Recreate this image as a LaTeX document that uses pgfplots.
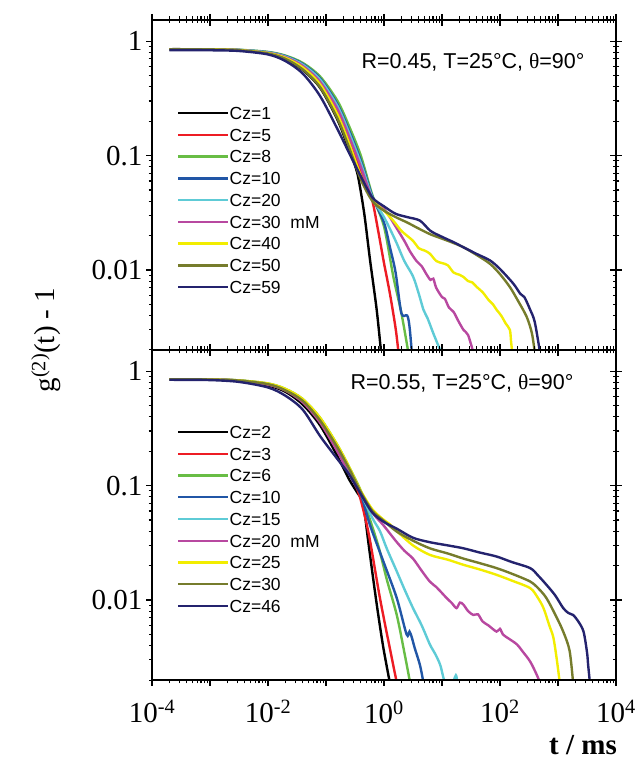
\documentclass[border=0pt]{standalone}
\usepackage{pgfplots}
\pgfplotsset{compat=1.18}
\usepackage{fontspec}
\setmainfont{Liberation Serif}
\newfontfamily\arial{Liberation Sans}

\definecolor{czblack}{RGB}{0,0,0}
\definecolor{czred}{RGB}{237,28,36}
\definecolor{czgreen}{RGB}{104,189,69}
\definecolor{czblue}{RGB}{33,86,166}
\definecolor{czcyan}{RGB}{94,203,214}
\definecolor{czmagenta}{RGB}{184,72,160}
\definecolor{czyellow}{RGB}{242,237,0}
\definecolor{czolive}{RGB}{118,124,44}
\definecolor{cznavy}{RGB}{36,35,110}

\begin{document}
\begin{tikzpicture}
\path[use as bounding box] (0pt,0pt) rectangle (634pt,765pt);

% ---------------- upper panel: R = 0.45 ----------------
\begin{axis}[at={(152pt,415pt)}, anchor=south west,
  scale only axis, width=464pt, height=330pt,
  xmode=log, ymode=log,
  xmin=1e-4, xmax=1e4, ymin=0.002, ymax=1.53,
  xtick={1e-4,1e-3,1e-2,1e-1,1,1e1,1e2,1e3,1e4},
  ytick={0.01,0.1,1},
  tick align=outside,
  every tick/.append style={line width=1.1pt, black},
  major tick length=6pt, minor tick length=3.5pt,
  xticklabels={}, yticklabels={0.01,0.1,1},
  yticklabel style={font=\fontsize{29}{29}\selectfont},
  legend cell align=left,
  legend image code/.code={\draw[#1] (0pt,0pt) -- (50pt,0pt);},
  legend style={draw=none, fill=none, anchor=north west, inner sep=0pt,
    at={(rel axis cs:0.054,0.7515)},
    font=\arial\fontsize{17.5}{17.5}\selectfont,
    nodes={inner sep=0pt, text height=17.2pt, text depth=4.55pt}},
  every axis plot/.append style={line width=2.4pt}]
\addplot[czblack, smooth] coordinates {(2e-4,0.85) (1e-3,0.848) (3.16e-3,0.832) (1e-2,0.778) (1.995e-2,0.695) (3.98e-2,0.56) (7.94e-2,0.39) (0.158,0.205) (0.251,0.112) (0.316,0.082) (0.363,0.063) (0.457,0.031) (0.575,0.0122) (0.748,0.0045) (0.891,0.0019)};
\addlegendentry{Cz=1}
\addplot[czred, smooth] coordinates {(2e-4,0.85) (1e-3,0.848) (3.16e-3,0.835) (1e-2,0.79) (1.995e-2,0.72) (3.98e-2,0.598) (7.94e-2,0.43) (0.158,0.24) (0.251,0.135) (0.398,0.072) (0.501,0.052) (0.631,0.040) (0.794,0.022) (1.0,0.0115) (1.259,0.0063) (1.585,0.0031) (1.778,0.0019)};
\addlegendentry{Cz=5}
\addplot[czgreen, smooth] coordinates {(2e-4,0.85) (1e-3,0.848) (3.16e-3,0.84) (1e-2,0.805) (1.995e-2,0.748) (3.98e-2,0.645) (7.94e-2,0.49) (0.158,0.30) (0.251,0.18) (0.398,0.10) (0.631,0.045) (1.0,0.024) (1.445,0.0088) (1.995,0.0042) (2.63,0.0019)};
\addlegendentry{Cz=8}
\addplot[czblue, smooth] coordinates {(2e-4,0.85) (1e-3,0.848) (3.16e-3,0.838) (1e-2,0.80) (1.995e-2,0.74) (3.98e-2,0.632) (7.94e-2,0.472) (0.158,0.28) (0.251,0.165) (0.398,0.091) (0.631,0.044) (1.0,0.026) (1.259,0.016) (1.585,0.0095) (1.995,0.0042) (2.512,0.0040) (2.754,0.0032) (3.02,0.0019)};
\addlegendentry{Cz=10}
\addplot[czcyan, smooth] coordinates {(2e-4,0.85) (1e-3,0.848) (3.16e-3,0.837) (1e-2,0.797) (1.995e-2,0.734) (3.98e-2,0.622) (7.94e-2,0.46) (0.158,0.27) (0.251,0.157) (0.398,0.086) (0.631,0.043) (1.0,0.029) (1.585,0.018) (2.239,0.012) (3.162,0.0088) (3.981,0.0062) (4.786,0.0045) (5.623,0.0038) (7.079,0.0028) (8.913,0.0021) (10,0.0018)};
\addlegendentry{Cz=20}
\addplot[czmagenta, smooth] coordinates {(2e-4,0.85) (1e-3,0.848) (3.16e-3,0.835) (1e-2,0.79) (1.995e-2,0.725) (3.98e-2,0.607) (7.94e-2,0.44) (0.158,0.255) (0.251,0.146) (0.398,0.080) (0.631,0.042) (1.0,0.034) (1.259,0.029) (1.585,0.024) (2.239,0.018) (2.818,0.0145) (3.631,0.012) (4.467,0.0108) (5.248,0.0094) (6.31,0.0082) (7.079,0.0084) (7.943,0.0070) (10,0.0058) (11.22,0.0056) (13.18,0.0047) (15.85,0.0043) (19.05,0.0036) (23.44,0.0030) (28.18,0.0027) (34.67,0.0019)};
\addlegendentry{Cz=30~~mM}
\addplot[czyellow, smooth] coordinates {(2e-4,0.85) (1e-3,0.848) (3.16e-3,0.834) (1e-2,0.786) (1.995e-2,0.714) (3.98e-2,0.588) (7.94e-2,0.418) (0.158,0.228) (0.251,0.127) (0.398,0.067) (0.631,0.041) (1.0,0.033) (1.445,0.027) (1.995,0.022) (3.162,0.018) (3.981,0.0155) (5.012,0.0148) (6.166,0.0139) (7.943,0.012) (10,0.0115) (12.59,0.011) (15.85,0.0095) (19.95,0.0091) (23.44,0.0087) (28.18,0.0080) (33.11,0.0078) (39.81,0.0071) (50.12,0.0064) (63.1,0.0055) (75.86,0.0050) (87.1,0.0045) (104.7,0.0040) (125.9,0.0034) (147.9,0.0030) (154.9,0.0024) (162.2,0.0019)};
\addlegendentry{Cz=40}
\addplot[czolive, smooth] coordinates {(2e-4,0.85) (1e-3,0.847) (3.16e-3,0.832) (1e-2,0.78) (1.995e-2,0.70) (3.98e-2,0.565) (7.94e-2,0.395) (0.158,0.21) (0.251,0.117) (0.398,0.062) (0.631,0.040) (1.0,0.033) (1.585,0.029) (2.512,0.026) (3.981,0.023) (6.31,0.0205) (10,0.0188) (15.85,0.0172) (23.44,0.0158) (39.81,0.0135) (67.61,0.0113) (100,0.0092) (147.9,0.0071) (199.5,0.0055) (288.4,0.0039) (354.8,0.0028) (398.1,0.0019)};
\addlegendentry{Cz=50}
\addplot[cznavy, smooth] coordinates {(2e-4,0.835) (1e-3,0.832) (3.16e-3,0.82) (1e-2,0.765) (1.995e-2,0.67) (3.98e-2,0.52) (7.94e-2,0.33) (0.158,0.17) (0.251,0.105) (0.398,0.066) (0.631,0.043) (1.0,0.036) (1.585,0.031) (2.512,0.029) (4.169,0.027) (6.31,0.022) (10,0.0195) (15.85,0.0175) (23.44,0.0158) (39.81,0.0138) (67.61,0.0121) (100,0.0102) (169.8,0.0076) (223.9,0.0062) (263,0.0058) (331.1,0.0045) (398.1,0.0035) (489.8,0.0019)};
\addlegendentry{Cz=59}
\end{axis}

% ---------------- lower panel: R = 0.55 ----------------
\begin{axis}[at={(152pt,85pt)}, anchor=south west,
  scale only axis, width=464pt, height=330pt,
  xmode=log, ymode=log,
  xmin=1e-4, xmax=1e4, ymin=0.002, ymax=1.53,
  xtick={1e-4,1e-3,1e-2,1e-1,1,1e1,1e2,1e3,1e4},
  ytick={0.01,0.1,1},
  tick align=outside,
  every tick/.append style={line width=1.1pt, black},
  major tick length=6pt, minor tick length=3.5pt,
  yticklabels={0.01,0.1,1},
  xticklabels={10\textsuperscript{-4},,10\textsuperscript{-2},,10\textsuperscript{0},,10\textsuperscript{2},,10\textsuperscript{4}},
  ticklabel style={font=\fontsize{29}{29}\selectfont},
  xticklabel style={yshift=-11pt},
  legend cell align=left,
  legend image code/.code={\draw[#1] (0pt,0pt) -- (50pt,0pt);},
  legend style={draw=none, fill=none, anchor=north west, inner sep=0pt,
    at={(rel axis cs:0.054,0.785)},
    font=\arial\fontsize{17.5}{17.5}\selectfont,
    nodes={inner sep=0pt, text height=17.2pt, text depth=4.55pt}},
  every axis plot/.append style={line width=2.4pt}]
\addplot[czblack, smooth] coordinates {(2e-4,0.85) (1e-3,0.845) (3.16e-3,0.822) (1e-2,0.75) (1.995e-2,0.66) (3.98e-2,0.51) (7.94e-2,0.335) (0.158,0.18) (0.251,0.113) (0.355,0.085) (0.437,0.07) (0.537,0.032) (0.661,0.0145) (0.794,0.0075) (0.977,0.0038) (1.259,0.0019)};
\addlegendentry{Cz=2}
\addplot[czred, smooth] coordinates {(2e-4,0.85) (1e-3,0.845) (3.16e-3,0.826) (1e-2,0.765) (1.995e-2,0.68) (3.98e-2,0.54) (7.94e-2,0.36) (0.158,0.20) (0.251,0.129) (0.355,0.09) (0.437,0.062) (0.562,0.035) (0.851,0.0104) (1.259,0.0038) (1.66,0.0019)};
\addlegendentry{Cz=3}
\addplot[czgreen, smooth] coordinates {(2e-4,0.85) (1e-3,0.845) (3.16e-3,0.83) (1e-2,0.78) (1.995e-2,0.70) (3.98e-2,0.57) (7.94e-2,0.39) (0.158,0.225) (0.251,0.145) (0.398,0.09) (0.501,0.062) (0.794,0.03) (1.122,0.015) (1.66,0.0074) (2.239,0.0035) (2.818,0.0019)};
\addlegendentry{Cz=6}
\addplot[czblue, smooth] coordinates {(2e-4,0.85) (1e-3,0.845) (3.16e-3,0.828) (1e-2,0.772) (1.995e-2,0.688) (3.98e-2,0.553) (7.94e-2,0.372) (0.158,0.211) (0.251,0.135) (0.398,0.084) (0.575,0.045) (1.0,0.021) (1.66,0.0104) (2.455,0.005) (2.754,0.0053) (3.02,0.0047) (3.388,0.0038) (4.169,0.0027) (4.786,0.0019)};
\addlegendentry{Cz=10}
\addplot[czcyan, smooth] coordinates {(2e-4,0.85) (1e-3,0.845) (3.16e-3,0.827) (1e-2,0.768) (1.995e-2,0.684) (3.98e-2,0.546) (7.94e-2,0.366) (0.158,0.207) (0.251,0.132) (0.398,0.085) (0.631,0.052) (0.851,0.040) (1.122,0.028) (1.66,0.0178) (2.239,0.0125) (3.162,0.0085) (4.467,0.006) (6.166,0.0041) (7.586,0.0034) (9.333,0.0027) (11.22,0.0019) (14.13,0.0017) (17.38,0.0022) (18.62,0.0017)};
\addlegendentry{Cz=15}
\addplot[czmagenta, smooth] coordinates {(2e-4,0.85) (1e-3,0.845) (3.16e-3,0.825) (1e-2,0.762) (1.995e-2,0.676) (3.98e-2,0.534) (7.94e-2,0.354) (0.158,0.198) (0.251,0.126) (0.398,0.086) (0.631,0.058) (0.977,0.045) (1.585,0.033) (2.239,0.027) (3.162,0.023) (4.467,0.018) (6.166,0.0145) (7.943,0.013) (10,0.0115) (12.02,0.0104) (14.79,0.0094) (17.78,0.0085) (20.42,0.0095) (23.44,0.0091) (28.18,0.008) (34.67,0.0074) (41.69,0.0075) (50.12,0.0065) (63.1,0.006) (87.1,0.0053) (100,0.0056) (112.2,0.005) (141.3,0.0046) (195,0.0041) (251.2,0.0035) (331.1,0.0029) (416.9,0.0023) (489.8,0.0019)};
\addlegendentry{Cz=20~~mM}
\addplot[czyellow, smooth] coordinates {(2e-4,0.85) (1e-3,0.845) (3.16e-3,0.83) (1e-2,0.78) (1.995e-2,0.70) (3.98e-2,0.57) (7.94e-2,0.39) (0.158,0.225) (0.251,0.145) (0.398,0.09) (0.631,0.062) (1.0,0.050) (1.259,0.046) (1.66,0.040) (3.162,0.030) (6.166,0.0248) (12.59,0.0225) (23.44,0.0203) (44.67,0.0185) (87.1,0.0166) (158.5,0.0148) (331.1,0.0127) (446.7,0.0105) (562.3,0.0085) (707.9,0.006) (831.8,0.0047) (955,0.003) (1072,0.0019)};
\addlegendentry{Cz=25}
\addplot[czolive, smooth] coordinates {(2e-4,0.85) (1e-3,0.845) (3.16e-3,0.827) (1e-2,0.77) (1.995e-2,0.68) (3.98e-2,0.55) (7.94e-2,0.37) (0.158,0.215) (0.251,0.14) (0.398,0.088) (0.631,0.06) (1.0,0.049) (1.66,0.0396) (3.162,0.033) (6.166,0.0283) (12.59,0.0255) (23.44,0.023) (44.67,0.021) (87.1,0.019) (158.5,0.017) (331.1,0.0145) (467.7,0.0125) (631,0.0104) (891.3,0.0075) (1230,0.0053) (1585,0.0036) (1820,0.0019)};
\addlegendentry{Cz=30}
\addplot[cznavy, smooth] coordinates {(2e-4,0.84) (1e-3,0.835) (3.16e-3,0.805) (1e-2,0.72) (1.995e-2,0.61) (3.98e-2,0.46) (7.94e-2,0.27) (0.158,0.17) (0.251,0.125) (0.398,0.084) (0.631,0.058) (1.0,0.048) (1.66,0.042) (3.162,0.035) (6.166,0.032) (12.59,0.030) (23.44,0.0283) (44.67,0.026) (87.1,0.024) (158.5,0.0215) (331.1,0.019) (446.7,0.0165) (631,0.0136) (891.3,0.011) (1230,0.0085) (1514,0.0077) (1820,0.0074) (2239,0.0065) (2754,0.0053) (3162,0.0035) (3311,0.0027) (3548,0.0019)};
\addlegendentry{Cz=46}
\end{axis}

% heavy frames of the two panels
\draw[line width=1.4pt] (152pt,415pt) rectangle (616pt,745pt);
\draw[line width=1.4pt] (152pt,85pt) rectangle (616pt,415pt);

% log tick marks of both frames: 58pt per decade in t, 114.44pt per decade in g
\foreach \yb in {85,415}{
  \pgfmathsetmacro\yt{\yb+330}
  \foreach \d in {0,...,8}{
    \draw[line width=1.1pt] ({(152+58*\d)*1pt},{\yb*1pt}) -- ++(0pt,-6pt);
    \draw[line width=1.1pt] ({(152+58*\d)*1pt},{\yt*1pt}) -- ++(0pt,-6pt);
  }
  \foreach \d in {0,...,7}{
    \foreach \m in {2,...,9}{
      \draw[line width=1pt] ({(152+58*(\d+log10(\m)))*1pt},{\yb*1pt}) -- ++(0pt,-3.5pt);
      \draw[line width=1pt] ({(152+58*(\d+log10(\m)))*1pt},{\yt*1pt}) -- ++(0pt,-3.5pt);
    }
  }
  \foreach \e in {-2,-1,0}{
    \draw[line width=1.1pt] (152pt,{(\yb+114.44*(\e+2.69897))*1pt}) -- ++(-6pt,0pt);
    \draw[line width=1.1pt] (616pt,{(\yb+114.44*(\e+2.69897))*1pt}) -- ++(-6pt,0pt);
  }
  \foreach \e in {-3,-2,-1}{
    \foreach \m in {2,...,9}{
      \draw[line width=1pt] (152pt,{(\yb+114.44*(\e+log10(\m)+2.69897))*1pt}) -- ++(-3.5pt,0pt);
      \draw[line width=1pt] (616pt,{(\yb+114.44*(\e+log10(\m)+2.69897))*1pt}) -- ++(-3.5pt,0pt);
    }
  }
}

% annotations and axis titles
\node[anchor=east, font=\arial\fontsize{21.5}{21.5}\selectfont] at (588pt,703pt) {R=0.45, T=25°C, {\rmfamily θ}=90°};
\node[anchor=east, font=\arial\fontsize{21.5}{21.5}\selectfont] at (577pt,382pt) {R=0.55, T=25°C, {\rmfamily θ}=90°};
\node[rotate=90, font=\fontsize{29}{29}\selectfont] at (46pt,425pt) {g\textsuperscript{(2)}(t) - 1};
\node[font=\bfseries\fontsize{29}{29}\selectfont] at (583pt,20pt) {t / ms};
\end{tikzpicture}
\end{document}
